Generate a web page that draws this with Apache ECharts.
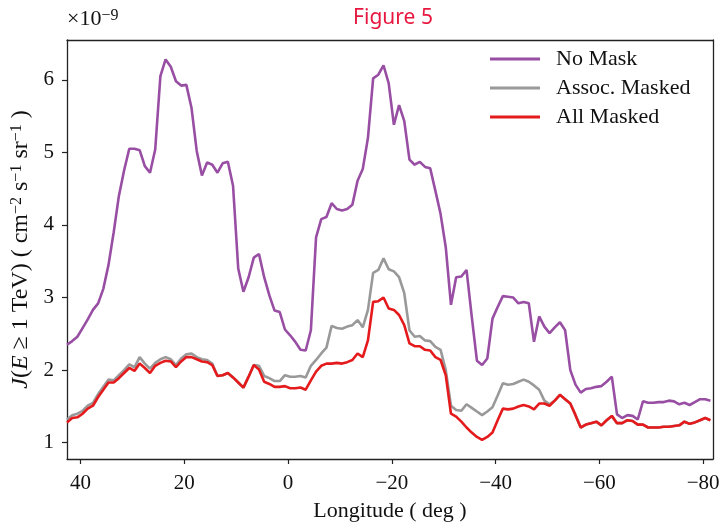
<!DOCTYPE html>
<html>
<head>
<meta charset="utf-8">
<script src="https://cdn.jsdelivr.net/npm/echarts@6/dist/echarts.min.js"></script>
<style>html,body{margin:0;padding:0;background:#fff}#c{width:724px;height:524px}</style>
</head>
<body>
<div id="c"></div>
<script>
// Longitude grid (deg): first bin centre and step
const lonStart = 42.6;
const lonStep = -1;

// J(E >= 1 TeV), units of 1e-9 cm^-2 s^-1 sr^-1
const noMask = [
  2.35,2.40,2.46,2.58,2.70,2.83,2.92,3.12,3.45,3.90,
  4.40,4.75,5.05,5.05,5.03,4.81,4.72,5.04,6.05,6.28,
  6.18,5.98,5.92,5.93,5.61,5.02,4.68,4.86,4.83,4.72,
  4.85,4.87,4.54,3.40,3.08,3.28,3.55,3.60,3.28,3.03,
  2.82,2.80,2.56,2.48,2.39,2.28,2.27,2.55,3.83,4.08,
  4.11,4.30,4.22,4.20,4.22,4.28,4.61,4.77,5.20,6.02,
  6.07,6.20,5.95,5.38,5.65,5.43,4.90,4.83,4.87,4.80,
  4.78,4.47,4.15,3.69,2.90,3.28,3.29,3.38,2.74,2.13,
  2.07,2.16,2.71,2.87,3.02,3.01,3.00,2.92,2.94,2.92,
  2.39,2.74,2.60,2.51,2.59,2.66,2.55,2.00,1.80,1.69,
  1.74,1.75,1.77,1.78,1.84,1.91,1.39,1.34,1.38,1.37,
  1.32,1.57,1.55,1.55,1.56,1.56,1.58,1.57,1.53,1.55,
  1.52,1.56,1.60,1.60,1.58
];
const assocMasked = [
  1.32,1.38,1.40,1.44,1.51,1.55,1.67,1.77,1.87,1.86,
  1.93,2.00,2.08,2.04,2.18,2.09,2.02,2.10,2.15,2.18,
  2.15,2.07,2.16,2.22,2.23,2.18,2.15,2.14,2.09,1.92,
  1.93,1.96,1.90,1.83,1.76,1.91,2.07,2.06,1.92,1.89,
  1.85,1.85,1.93,1.91,1.91,1.92,1.90,2.06,2.14,2.23,
  2.31,2.61,2.58,2.57,2.60,2.62,2.69,2.59,2.83,3.34,
  3.38,3.54,3.39,3.36,3.28,3.06,2.55,2.46,2.47,2.41,
  2.40,2.32,2.28,2.00,1.51,1.45,1.44,1.53,1.48,1.43,
  1.38,1.43,1.49,1.65,1.82,1.80,1.81,1.84,1.87,1.84,
  1.79,1.73,1.58,1.53,1.58,1.66,1.60,1.54,1.38,1.21,
  1.25,1.27,1.29,1.24,1.31,1.37,1.27,1.27,1.31,1.30,
  1.25,1.25,1.21,1.21,1.21,1.22,1.22,1.23,1.24,1.29,
  1.26,1.28,1.31,1.34,1.31
];
const allMasked = [
  1.28,1.34,1.35,1.40,1.47,1.51,1.63,1.73,1.83,1.83,
  1.89,1.96,2.03,1.99,2.09,2.03,1.96,2.06,2.10,2.13,
  2.12,2.04,2.12,2.18,2.18,2.15,2.12,2.11,2.07,1.92,
  1.93,1.96,1.90,1.83,1.76,1.91,2.07,2.01,1.84,1.81,
  1.77,1.77,1.78,1.75,1.75,1.76,1.73,1.86,1.98,2.06,
  2.09,2.09,2.10,2.09,2.11,2.14,2.23,2.18,2.41,2.94,
  2.95,3.00,2.85,2.83,2.76,2.62,2.37,2.33,2.33,2.28,
  2.27,2.18,2.14,1.93,1.40,1.36,1.29,1.21,1.14,1.08,
  1.04,1.08,1.14,1.31,1.47,1.46,1.47,1.50,1.52,1.50,
  1.46,1.54,1.54,1.51,1.58,1.66,1.60,1.54,1.38,1.21,
  1.25,1.27,1.29,1.24,1.31,1.37,1.27,1.27,1.31,1.30,
  1.25,1.25,1.21,1.21,1.21,1.22,1.22,1.23,1.24,1.29,
  1.26,1.28,1.31,1.34,1.31
];
const seriesNames = ['No Mask', 'Assoc. Masked', 'All Masked'];
const seriesColors = ['#984ea3', '#999999', '#e41a1c'];
const xTicks = [40, 20, 0, -20, -40, -60, -80];
const yTicks = [1, 2, 3, 4, 5, 6];

const lon = noMask.map((_, i) => +(lonStart + i * lonStep).toFixed(2));
const toPairs = arr => arr.map((v, i) => [lon[i], v]);

const serif = "'Liberation Serif', 'DejaVu Serif', serif";
const axisCol = '#222';

const chart = echarts.init(document.getElementById('c'), null, {renderer: 'canvas'});
const fmtMinus = v => String(v).replace('-', '\u2212');

chart.setOption({
  animation: false,
  backgroundColor: '#fff',
  title: {
    text: 'Figure 5',
    left: 388, textAlign: 'center', top: 3,
    textStyle: {color: '#e8173f', fontFamily: "'Noto Sans', sans-serif", fontSize: 21, fontWeight: 'normal'}
  },
  grid: {left: 67, right: 11, top: 40, bottom: 65, containLabel: false, outerBoundsMode: 'none'},
  legend: {
    orient: 'vertical', left: 485, top: 43,
    icon: 'rect',
    itemWidth: 50, itemHeight: 3, itemGap: 7,
    data: seriesNames,
    textStyle: {fontFamily: serif, fontSize: 22, color: '#111', padding: [0, 0, 0, 11]}
  },
  graphic: [{
    type: 'text', left: 67, top: 8,
    style: {
      text: '\u00d710{s|\u22129}',
      font: '22px ' + serif, fill: '#111',
      rich: {s: {fontSize: 16, fontFamily: serif, verticalAlign: 'top', fill: '#111'}}
    }
  }],
  xAxis: [{
    type: 'value', inverse: true, min: -81.9, max: 42.6,
    name: 'Longitude ( deg )', nameLocation: 'middle', nameGap: 41,
    nameTextStyle: {fontFamily: serif, fontSize: 22, color: '#111'},
    axisLine: {show: true, onZero: false, lineStyle: {color: axisCol, width: 1.3}},
    axisTick: {show: true, length: 5, customValues: xTicks, lineStyle: {color: axisCol, width: 1.2}},
    axisLabel: {customValues: xTicks, margin: 14, formatter: fmtMinus, fontFamily: serif, fontSize: 21, color: '#111'},
    splitLine: {show: false}
  }, {
    type: 'value', position: 'top', inverse: true, min: -81.9, max: 42.6,
    axisLine: {show: true, onZero: false, lineStyle: {color: axisCol, width: 1.3}},
    axisTick: {show: false}, axisLabel: {show: false}, splitLine: {show: false}
  }],
  yAxis: [{
    type: 'value', min: 0.776, max: 6.548,
    name: '{i|J}({i|E} \u2265 1 TeV) ( cm{s|\u22122} s{s|\u22121} sr{s|\u22121} )',
    nameLocation: 'middle', nameRotate: 90, nameGap: 31,
    nameTextStyle: {
      fontFamily: serif, fontSize: 24, color: '#111',
      rich: {
        i: {fontStyle: 'italic', fontFamily: serif, fontSize: 24, color: '#111'},
        s: {fontSize: 16, fontFamily: serif, color: '#111', verticalAlign: 'top'}
      }
    },
    axisLine: {show: true, onZero: false, lineStyle: {color: axisCol, width: 1.3}},
    axisTick: {show: true, length: 5, customValues: yTicks, lineStyle: {color: axisCol, width: 1.2}},
    axisLabel: {customValues: yTicks, margin: 13, fontFamily: serif, fontSize: 21, color: '#111'},
    splitLine: {show: false}
  }, {
    type: 'value', position: 'right', min: 0.776, max: 6.548,
    axisLine: {show: true, onZero: false, lineStyle: {color: axisCol, width: 1.3}},
    axisTick: {show: false}, axisLabel: {show: false}, splitLine: {show: false}
  }],
  series: [noMask, assocMasked, allMasked].map((arr, k) => ({
    name: seriesNames[k], type: 'line', data: toPairs(arr),
    symbol: 'none', showSymbol: false,
    lineStyle: {color: seriesColors[k], width: 2.6},
    itemStyle: {color: seriesColors[k]},
    z: 2 + k
  }))
});
</script>
</body>
</html>
